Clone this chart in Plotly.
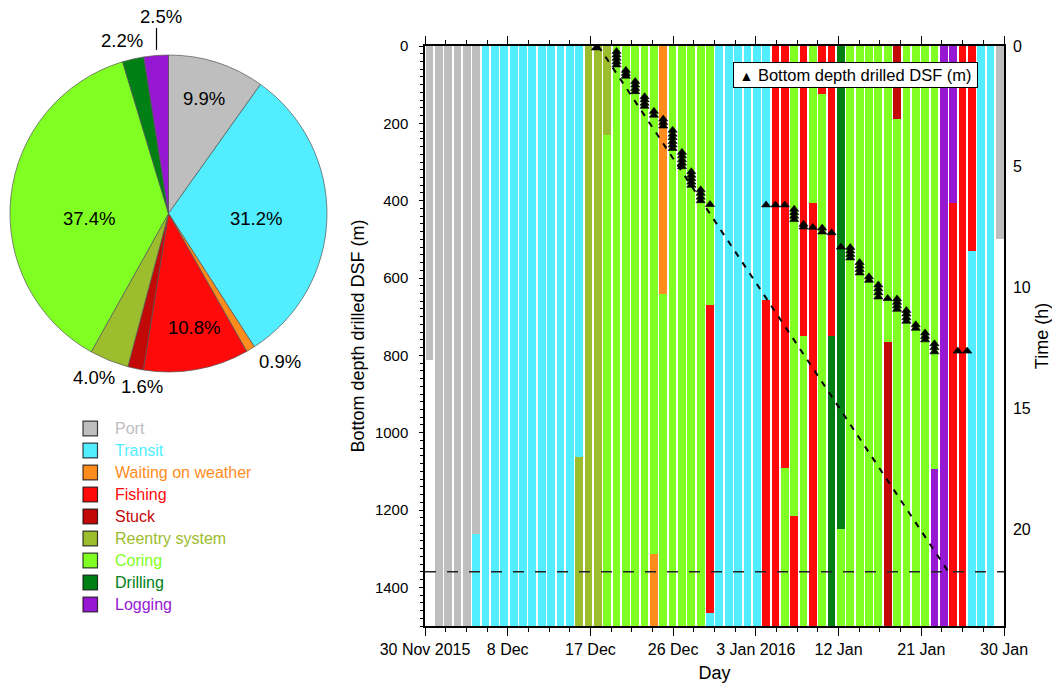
import plotly.graph_objects as go

# ---------------------------------------------------------------- data
categories = ["Port", "Transit", "Waiting on weather", "Fishing", "Stuck",
              "Reentry system", "Coring", "Drilling", "Logging"]
colors = ["#BEBEBE", "#52EDFF", "#FF8C1C", "#FF0A0A", "#C30808",
          "#9CBD2E", "#80FF22", "#008014", "#9618D2"]
pie_percent = [9.9, 31.2, 0.9, 10.8, 1.6, 4.0, 37.4, 2.2, 2.5]

# Operations log: each event starts an activity at (day index from 30 Nov, hour)
event_day = [0, 0, 1, 5, 16, 19, 24, 25, 30, 30, 36, 38, 39, 40, 41, 42,
             43, 43, 44, 49, 50, 54, 56, 58, 61]
event_hour = [0, 13.0, 0, 20.2, 17.0, 3.7, 21.0, 10.25, 10.7, 23.45, 10.5,
              17.45, 19.45, 12.0, 6.5, 2.0, 0, 12.0, 20.0, 12.25, 3.0, 17.5,
              6.5, 8.5, 0]
event_activity = ["Port", None, "Port", "Transit", "Reentry system", "Coring",
                  "Waiting on weather", "Coring", "Fishing", "Transit",
                  "Fishing", "Coring", "Fishing", "Coring", "Fishing",
                  "Coring", "Fishing", "Drilling", "Coring", "Stuck",
                  "Coring", "Logging", "Fishing", "Transit", "Port"]
log_end_day, log_end_hour = 61, 8.0

# Bottom depth of each core (m DSF), grouped by day
core_day = [17.8, 20, 20, 20, 20, 20, 21, 21, 21, 22, 22, 22, 22,
            23, 23, 23, 23, 24, 24, 25, 25, 25,
            26, 26, 26, 26, 26, 26, 27, 27, 27, 27, 27,
            28, 28, 28, 28, 28, 29, 29, 29, 29, 30,
            36, 37, 38, 39, 39, 39, 39, 40, 40, 41, 42, 42, 43, 44,
            45, 45, 45, 45, 46, 46, 46, 46, 47, 47, 48, 48, 48, 48, 49,
            50, 50, 50, 50, 51, 51, 51, 51, 52, 52, 53, 53, 53,
            54, 54, 54, 56.5, 57.5]
core_depth = [5, 14, 23, 32, 41, 49, 63, 71, 78, 92, 101, 110, 118,
              131, 139, 148, 156, 169, 179, 189, 198, 207,
              218, 228, 237, 247, 256, 265, 275, 284, 294, 303, 312,
              325, 334, 343, 352, 360, 372, 381, 391, 400, 410,
              411, 411, 411, 422, 431, 440, 449, 461, 468, 469, 471, 481,
              483, 520,
              521, 530, 539, 548, 560, 569, 578, 587, 597, 606,
              618, 628, 638, 649, 653,
              654, 663, 672, 681, 684, 693, 703, 712, 721, 730,
              742, 751, 760, 770, 780, 791, 789, 789]

# Planned penetration and target depth
plan_day = [18.05, 55.5]
plan_depth = [0, 1360]
target_depth = 1360

day_ticktext = ["30 Nov 2015", "8 Dec", "17 Dec", "26 Dec", "3 Jan 2016",
                "12 Jan", "21 Jan", "30 Jan"]
depth_ticks = [0, 200, 400, 600, 800, 1000, 1200, 1400]
hour_ticks = [0, 5, 10, 15, 20]

# ---------------------------------------------------------------- helpers
W, H = 1052, 683
FONT = "Liberation Sans, Arial, Helvetica, sans-serif"


def fx(p):
    return p / W


def fy(p):
    return 1 - p / H


# split the log into one piece per day and activity
segments = {c: ([], [], []) for c in categories}
times = [d * 24 + h for d, h in zip(event_day, event_hour)]
times.append(log_end_day * 24 + log_end_hour)
for i, act in enumerate(event_activity):
    t0, t1 = times[i], times[i + 1]
    if act is None:
        continue
    t = t0
    while t < t1 - 1e-9:
        d = int(t // 24)
        stop = min(t1, (d + 1) * 24)
        xs, bs, ls = segments[act]
        xs.append(d)
        bs.append(t - d * 24)
        ls.append(stop - t)
        t = stop

fig = go.Figure()

# daily activity bars (time axis)
for cat, col in zip(categories, colors):
    xs, bs, ls = segments[cat]
    if not xs:
        continue
    fig.add_trace(go.Bar(
        x=xs, y=ls, base=bs, width=0.83, name=cat,
        marker=dict(color=col, line=dict(width=0)),
        yaxis="y", xaxis="x", showlegend=False))

# planned penetration line and core depths (depth axis)
fig.add_trace(go.Scatter(
    x=plan_day, y=plan_depth, mode="lines", yaxis="y2", xaxis="x",
    line=dict(color="black", width=2, dash="6px,7px"), showlegend=False,
    hoverinfo="skip"))
fig.add_trace(go.Scatter(
    x=core_day, y=core_depth, mode="markers", yaxis="y2", xaxis="x",
    name="Bottom depth drilled DSF (m)",
    marker=dict(symbol="triangle-up", size=8, color="black",
                line=dict(width=0.6, color="black")),
    showlegend=False))

# activity share pie
fig.add_trace(go.Pie(
    values=pie_percent, labels=categories, sort=False, direction="clockwise",
    rotation=0, textinfo="none", showlegend=False,
    marker=dict(colors=colors, line=dict(color="#555555", width=0.7)),
    domain=dict(x=[fx(10), fx(327)], y=[fy(372), fy(55)])))

# x ticks: seven equal intervals across the axis
x_lo, x_hi = -0.48, 61.44
step = (x_hi - x_lo) / 7
major = [x_lo + k * step for k in range(8)]
minor = [x_lo + k * step / 4 for k in range(29)]

axis_font = dict(family=FONT, size=16, color="black")

shapes = [dict(type="line", xref="x domain", x0=0, x1=1, yref="y2",
               y0=target_depth, y1=target_depth,
               line=dict(color="#222222", width=1.5, dash="11px,11px"),
               layer="above")]
annotations = []

# pie percentage labels
label_px = [(204, 98), (256, 218), (280, 361), (194, 327), (142, 386),
            (94, 377), (89, 218), (122, 40), (161, 16)]
for v, (px, py) in zip(pie_percent, label_px):
    annotations.append(dict(
        x=fx(px), y=fy(py), xref="paper", yref="paper", showarrow=False,
        text=f"{v:.1f}%", xanchor="center", yanchor="middle",
        font=dict(family=FONT, size=18.5, color="black")))
# leader for the smallest slice label
shapes.append(dict(type="line", xref="paper", yref="paper",
                   x0=fx(156.5), x1=fx(156.5), y0=fy(28), y1=fy(50),
                   line=dict(color="black", width=1.2)))

# activity key below the pie
for i, (cat, col) in enumerate(zip(categories, colors)):
    cy = 428.5 + 22 * i
    shapes.append(dict(type="rect", xref="paper", yref="paper",
                       x0=fx(83), x1=fx(97.5), y0=fy(cy + 7.3), y1=fy(cy - 7.3),
                       fillcolor=col, line=dict(color="rgba(0,0,0,0.75)", width=1.2)))
    annotations.append(dict(
        x=fx(112.5), y=fy(cy), xref="paper", yref="paper", showarrow=False,
        text=cat, xanchor="left", yanchor="middle",
        font=dict(family=FONT, size=16, color=col)))

# key for the core depth markers
annotations.append(dict(
    x=fx(733), y=fy(62), xref="paper", yref="paper", showarrow=False,
    xanchor="left", yanchor="top", align="center",
    text='<span style="font-size:14px">▲</span> Bottom depth drilled DSF (m)',
    font=dict(family=FONT, size=16.5, color="black"),
    bgcolor="white", bordercolor="black", borderwidth=1, borderpad=2,
    width=239, height=20))

fig.update_layout(
    width=W, height=H, margin=dict(l=0, r=0, t=0, b=0),
    paper_bgcolor="white", plot_bgcolor="white",
    barmode="overlay", bargap=0,
    font=axis_font,
    xaxis=dict(
        domain=[fx(425), fx(1004)], range=[x_lo, x_hi], anchor="y",
        automargin=False,
        tickmode="array", tickvals=major, ticktext=day_ticktext,
        ticks="outside", ticklen=8, tickwidth=1.2, tickcolor="black",
        showline=True, linewidth=1.5, linecolor="black", mirror="ticks",
        showgrid=False, zeroline=False, tickfont=axis_font,
        minor=dict(tickmode="array", tickvals=minor, ticks="outside",
                   ticklen=4, tickwidth=1, tickcolor="black"),
        title=dict(text="Day", font=dict(family=FONT, size=18), standoff=10)),
    yaxis=dict(
        domain=[fy(626), fy(46)], range=[24, 0], side="right", anchor="x",
        automargin=False,
        tickmode="array", tickvals=hour_ticks, ticks="",
        showline=True, linewidth=1.5, linecolor="black",
        showgrid=False, zeroline=False, tickfont=axis_font,
        ticklabelstandoff=4,
        title=dict(text="Time (h)", font=dict(family=FONT, size=18), standoff=8)),
    yaxis2=dict(
        overlaying="y", side="left", range=[1500, 0], anchor="x",
        automargin=False,
        tickmode="array", tickvals=depth_ticks,
        ticks="outside", ticklen=4, tickwidth=1.2, tickcolor="black",
        showline=True, linewidth=1.5, linecolor="black",
        showgrid=False, zeroline=False,
        tickfont=dict(family=FONT, size=15, color="black"),
        ticklabelstandoff=8,
        minor=dict(dtick=20, tick0=0, ticks="outside", ticklen=3,
                   tickwidth=1, tickcolor="black"),
        title=dict(text="Bottom depth drilled DSF (m)",
                   font=dict(family=FONT, size=18), standoff=6)),
    shapes=shapes, annotations=annotations,
)

fig.write_html("out.html")
